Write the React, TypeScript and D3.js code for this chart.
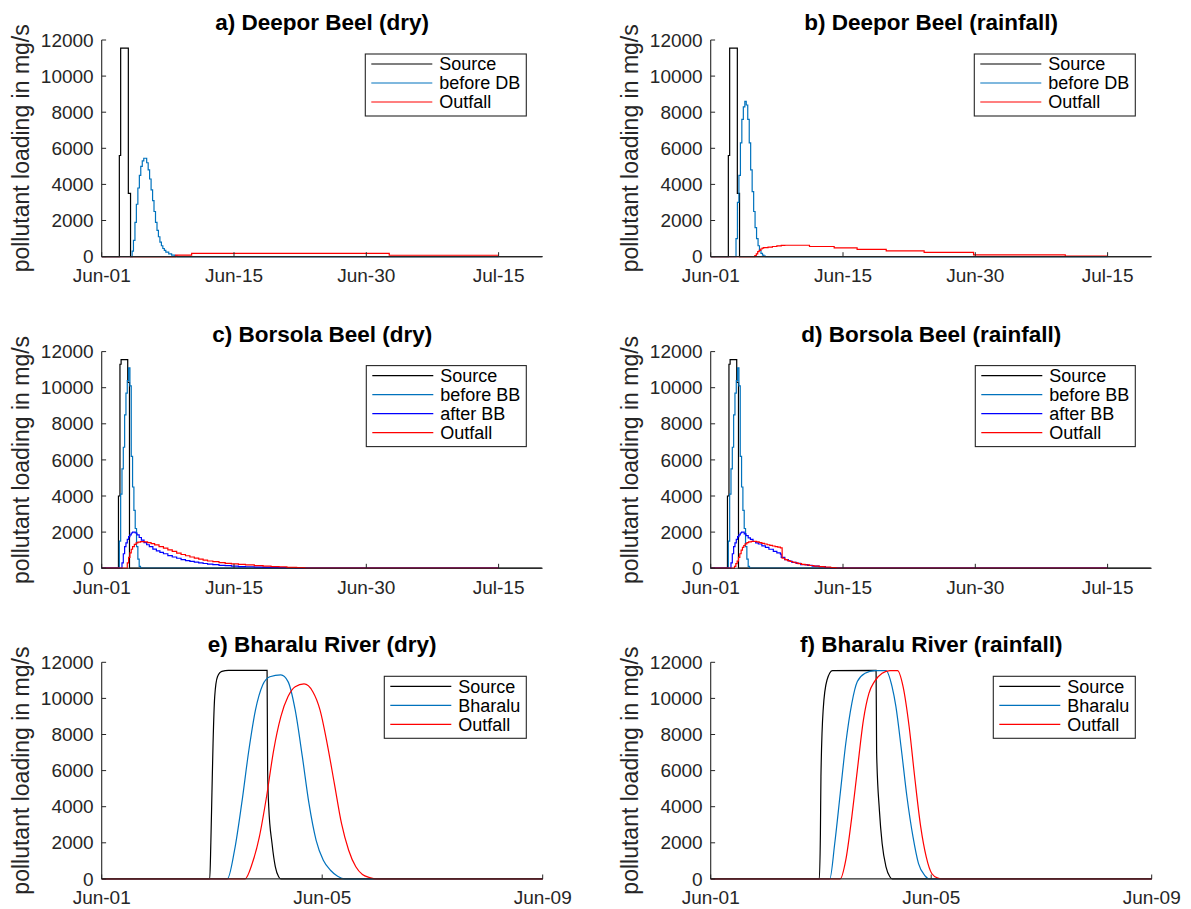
import React from 'react';
import * as d3 from 'd3';

type Pt = [number, number];

// ---------- axes / ticks ----------
const deeporSpan: [number, number] = [0, 50];
const deeporTickDays = [0, 15, 30, 45];
const deeporTickLabels = ['Jun-01', 'Jun-15', 'Jun-30', 'Jul-15'];
const bharaluSpan: [number, number] = [0, 8];
const bharaluTickDays = [0, 4, 8];
const bharaluTickLabels = ['Jun-01', 'Jun-05', 'Jun-09'];
const loadTicks = [0, 2000, 4000, 6000, 8000, 10000, 12000];

// ---------- Deepor Beel (days since Jun-01, mg/s) ----------
const deeporSource: Pt[] = [[0, 0], [2.0, 5600], [2.15, 11550], [3.02, 3500], [3.27, 0], [49.9, 0]];
const deeporDryBefore: Pt[] = [
  [0, 0], [3.28, 0], [3.45, 300], [3.6, 900], [3.77, 1900], [3.93, 2900], [4.1, 3800], [4.27, 4500],
  [4.43, 5000], [4.6, 5300], [4.77, 5450], [4.93, 5450], [5.1, 5200], [5.27, 4800], [5.43, 4300],
  [5.6, 3700], [5.77, 3100], [5.93, 2500], [6.1, 1900], [6.27, 1450], [6.43, 1100], [6.6, 800],
  [6.77, 600], [6.93, 450], [7.1, 350], [7.27, 250], [7.6, 150], [7.93, 80], [8.3, 30], [8.6, 0], [45, 0],
];
const deeporDryOutfall: Pt[] = [[0, 0], [8.4, 80], [10.2, 180], [32.6, 75], [45, 75]];
const deeporRainBefore: Pt[] = [
  [0, 0], [2.7, 0], [2.87, 1000], [3.03, 3000], [3.2, 4500], [3.37, 6300], [3.53, 7600], [3.7, 8300],
  [3.87, 8600], [4.03, 8400], [4.2, 7600], [4.37, 6300], [4.53, 4800], [4.7, 3600], [4.87, 2500],
  [5.03, 1600], [5.2, 1000], [5.37, 600], [5.53, 350], [5.7, 180], [5.87, 80], [6.03, 30], [6.2, 0], [45, 0],
];
const deeporRainOutfall: Pt[] = [
  [0, 0], [5.0, 50], [5.17, 150], [5.33, 280], [5.5, 350], [5.67, 420], [5.83, 470], [6.0, 500],
  [6.5, 530], [7.0, 560], [7.5, 590], [8.0, 620], [8.4, 630], [11.2, 560], [14.0, 480], [16.6, 400],
  [19.9, 320], [24.2, 230], [29.8, 100], [40.2, 30], [45, 30],
];

// ---------- Borsola Beel ----------
const borsolaSource: Pt[] = [[0, 0], [1.9, 4000], [2.07, 11300], [2.2, 11550], [2.95, 10300], [3.15, 0], [49.9, 0]];
const borsolaBefore: Pt[] = [
  [0, 0], [2.0, 1500], [2.15, 4100], [2.3, 5500], [2.45, 6700], [2.6, 8500], [2.75, 9700], [2.9, 10400],
  [3.05, 11100], [3.2, 10100], [3.35, 6200], [3.5, 4500], [3.65, 3200], [3.8, 2200], [3.95, 1200],
  [4.1, 500], [4.25, 100], [4.4, 0], [45, 0],
];
const borsolaDryAfter: Pt[] = [
  [0, 0], [2.3, 300], [2.45, 800], [2.6, 1200], [2.75, 1400], [2.9, 1600], [3.05, 1750], [3.2, 1850],
  [3.35, 1950], [3.5, 2000], [3.8, 1950], [4.0, 1850], [4.25, 1700], [4.5, 1550], [4.8, 1420], [5.1, 1300],
  [5.4, 1200], [5.8, 1060], [6.2, 960], [6.6, 880], [7.0, 800], [7.5, 700], [8.0, 620], [8.5, 550],
  [9.0, 480], [9.5, 420], [10.0, 380], [10.5, 340], [11.0, 300], [11.5, 260], [12.0, 230], [12.6, 200],
  [13.3, 160], [14.0, 140], [14.7, 110], [15.5, 90], [16.3, 80], [17.3, 60], [18.3, 50], [20.1, 30],
  [22.0, 0], [45, 0],
];
const borsolaDryOutfall: Pt[] = [
  [0, 0], [2.75, 0], [2.9, 300], [3.05, 600], [3.2, 850], [3.35, 1050], [3.5, 1200], [3.7, 1320],
  [3.9, 1400], [4.1, 1440], [4.4, 1470], [4.8, 1460], [5.2, 1420], [5.6, 1360], [6.0, 1290], [6.5, 1200],
  [7.0, 1110], [7.5, 1020], [8.0, 930], [8.5, 840], [9.0, 760], [9.5, 690], [10.0, 620], [10.5, 560],
  [11.0, 500], [11.5, 450], [12.0, 400], [12.6, 360], [13.3, 310], [14.0, 270], [14.7, 240], [15.5, 210],
  [16.3, 180], [17.3, 140], [18.3, 110], [19.2, 90], [20.1, 70], [21.0, 50], [22.1, 30], [23.0, 0], [45, 0],
];
const borsolaRainAfter: Pt[] = [
  [0, 0], [2.3, 300], [2.45, 800], [2.6, 1200], [2.75, 1400], [2.9, 1600], [3.05, 1750], [3.2, 1850],
  [3.35, 1950], [3.5, 2000], [3.8, 1900], [4.0, 1800], [4.25, 1680], [4.5, 1600], [4.8, 1480], [5.1, 1400],
  [5.4, 1340], [5.8, 1240], [6.2, 1150], [6.6, 1050], [7.1, 930], [7.5, 850], [7.9, 780], [8.0, 600],
  [8.4, 480], [8.8, 400], [9.2, 320], [9.7, 270], [10.2, 200], [11.0, 160], [11.5, 120], [12.3, 90],
  [13.0, 40], [13.6, 0], [45, 0],
];
const borsolaRainOutfall: Pt[] = [
  [0, 0], [2.55, 0], [2.7, 100], [2.85, 250], [3.0, 400], [3.15, 600], [3.3, 800], [3.45, 1000],
  [3.6, 1150], [3.75, 1250], [3.9, 1350], [4.1, 1420], [4.3, 1460], [4.6, 1490], [4.9, 1490], [5.2, 1460],
  [5.5, 1420], [5.8, 1380], [6.1, 1340], [6.4, 1300], [6.7, 1260], [7.0, 1230], [7.3, 1200], [7.6, 1170],
  [7.9, 1130], [8.1, 550], [8.4, 480], [8.7, 420], [9.0, 370], [9.3, 330], [9.6, 290], [9.9, 250],
  [10.3, 210], [10.7, 180], [11.2, 150], [11.7, 120], [12.3, 90], [12.9, 60], [13.6, 30], [14.2, 0], [45, 0],
];

// ---------- Bharalu River ----------
const bharaluDrySource: Pt[] = [
  [0, 0], [1.96, 0], [1.98, 2000], [2.0, 4800], [2.02, 7500], [2.05, 10100], [2.1, 11200], [2.18, 11500],
  [2.3, 11550], [3.0, 11550], [3.01, 6000], [3.03, 4000], [3.09, 1960], [3.15, 670], [3.21, 120], [3.25, 0], [8, 0],
];
const bharaluDryRiver: Pt[] = [
  [0, 0], [2.28, 0], [2.41, 1590], [2.54, 4180], [2.67, 7140], [2.79, 9360], [2.92, 10740], [3.05, 11200],
  [3.25, 11300], [3.38, 10930], [3.51, 9360], [3.64, 6770], [3.76, 4180], [3.89, 2140], [4.02, 1035],
  [4.15, 480], [4.28, 150], [4.41, 0], [8, 0],
];
const bharaluDryOutfall: Pt[] = [
  [0, 0], [2.6, 0], [2.73, 850], [2.86, 2330], [2.99, 4550], [3.12, 7140], [3.25, 8990], [3.38, 10100],
  [3.51, 10650], [3.67, 10800], [3.83, 10370], [3.96, 9360], [4.09, 7500], [4.22, 5290], [4.35, 3070],
  [4.48, 1590], [4.61, 670], [4.73, 240], [4.86, 74], [4.99, 0], [8, 0],
];
const bharaluRainSource: Pt[] = [
  [0, 0], [1.97, 0], [1.99, 2500], [2.0, 5660], [2.04, 9360], [2.11, 11020], [2.21, 11540], [3.0, 11550],
  [3.01, 7000], [3.06, 3810], [3.11, 1960], [3.18, 670], [3.25, 120], [3.29, 0], [8, 0],
];
const bharaluRainRiver: Pt[] = [
  [0, 0], [2.16, 0], [2.25, 1960], [2.35, 4730], [2.45, 7500], [2.56, 9730], [2.66, 10930], [2.8, 11390],
  [2.97, 11540], [3.18, 11540], [3.29, 10650], [3.36, 9540], [3.46, 7140], [3.56, 4550], [3.67, 2330],
  [3.77, 850], [3.88, 200], [3.98, 0], [8, 0],
];
const bharaluRainOutfall: Pt[] = [
  [0, 0], [2.35, 0], [2.45, 1035], [2.56, 3440], [2.66, 6030], [2.77, 8800], [2.87, 10280], [2.97, 10930],
  [3.11, 11390], [3.25, 11540], [3.39, 11540], [3.49, 10650], [3.6, 8430], [3.7, 5660], [3.81, 2880],
  [3.91, 1220], [4.01, 300], [4.12, 40], [4.19, 0], [8, 0],
];

// ---------- styling / layout ----------
const BLACK = '#000000';
const MBLUE = '#0072BD';
const BLUE = '#0000FF';
const RED = '#FF0000';
const AXIS = '#262626';
const FONT = '"Liberation Sans", Arial, Helvetica, sans-serif';
const COL_X = [101.7, 710.7];
const ROW_Y = [40, 351.6, 662.3];
const AX_W = 441;
const AX_H = 216.6;

type Series = { name: string; color: string; data: Pt[] };
type PanelDef = {
  title: string; col: number; row: number; span: [number, number]; tickDays: number[]; tickLabels: string[];
  smooth: boolean; legendW: number; series: Series[];
};

const panels: PanelDef[] = [
  {
    title: 'a) Deepor Beel (dry)', col: 0, row: 0, span: deeporSpan, tickDays: deeporTickDays, tickLabels: deeporTickLabels,
    smooth: false, legendW: 161,
    series: [
      { name: 'Source', color: BLACK, data: deeporSource },
      { name: 'before DB', color: MBLUE, data: deeporDryBefore },
      { name: 'Outfall', color: RED, data: deeporDryOutfall },
    ],
  },
  {
    title: 'b) Deepor Beel (rainfall)', col: 1, row: 0, span: deeporSpan, tickDays: deeporTickDays, tickLabels: deeporTickLabels,
    smooth: false, legendW: 161,
    series: [
      { name: 'Source', color: BLACK, data: deeporSource },
      { name: 'before DB', color: MBLUE, data: deeporRainBefore },
      { name: 'Outfall', color: RED, data: deeporRainOutfall },
    ],
  },
  {
    title: 'c) Borsola Beel (dry)', col: 0, row: 1, span: deeporSpan, tickDays: deeporTickDays, tickLabels: deeporTickLabels,
    smooth: false, legendW: 160,
    series: [
      { name: 'Source', color: BLACK, data: borsolaSource },
      { name: 'before BB', color: MBLUE, data: borsolaBefore },
      { name: 'after BB', color: BLUE, data: borsolaDryAfter },
      { name: 'Outfall', color: RED, data: borsolaDryOutfall },
    ],
  },
  {
    title: 'd) Borsola Beel (rainfall)', col: 1, row: 1, span: deeporSpan, tickDays: deeporTickDays, tickLabels: deeporTickLabels,
    smooth: false, legendW: 160,
    series: [
      { name: 'Source', color: BLACK, data: borsolaSource },
      { name: 'before BB', color: MBLUE, data: borsolaBefore },
      { name: 'after BB', color: BLUE, data: borsolaRainAfter },
      { name: 'Outfall', color: RED, data: borsolaRainOutfall },
    ],
  },
  {
    title: 'e) Bharalu River (dry)', col: 0, row: 2, span: bharaluSpan, tickDays: bharaluTickDays, tickLabels: bharaluTickLabels,
    smooth: true, legendW: 142,
    series: [
      { name: 'Source', color: BLACK, data: bharaluDrySource },
      { name: 'Bharalu', color: MBLUE, data: bharaluDryRiver },
      { name: 'Outfall', color: RED, data: bharaluDryOutfall },
    ],
  },
  {
    title: 'f) Bharalu River (rainfall)', col: 1, row: 2, span: bharaluSpan, tickDays: bharaluTickDays, tickLabels: bharaluTickLabels,
    smooth: true, legendW: 142,
    series: [
      { name: 'Source', color: BLACK, data: bharaluRainSource },
      { name: 'Bharalu', color: MBLUE, data: bharaluRainRiver },
      { name: 'Outfall', color: RED, data: bharaluRainOutfall },
    ],
  },
];

function Panel({ p }: { p: PanelDef }) {
  const x0 = COL_X[p.col];
  const y0 = ROW_Y[p.row];
  const x = d3.scaleLinear().domain(p.span).range([x0, x0 + AX_W]);
  const y = d3.scaleLinear().domain([0, 12000]).range([y0 + AX_H, y0]);
  const line = d3
    .line<Pt>()
    .x((d) => x(d[0]))
    .y((d) => y(d[1]))
    .curve(p.smooth ? d3.curveMonotoneX : d3.curveStepAfter);
  const yb = y(0);
  const tl = 4.4;
  const lgRight = x0 + 424.6;
  const lgLeft = lgRight - p.legendW;
  const lgTop = y0 + 14;
  const lgH = 5 + p.series.length * 19;
  return (
    <g>
      {p.series.map((s) => (
        <path key={s.name} d={line(s.data) || ''} fill="none" stroke={s.color} strokeWidth={1.2} strokeLinejoin="miter" />
      ))}
      {/* axes */}
      <line x1={x0} x2={x0 + AX_W} y1={yb} y2={yb} stroke={AXIS} strokeWidth={1.1} />
      <line x1={x0} x2={x0} y1={yb} y2={y(12000)} stroke={AXIS} strokeWidth={1.1} />
      {loadTicks.map((t) => (
        <g key={'y' + t}>
          <line x1={x0} x2={x0 + tl} y1={y(t)} y2={y(t)} stroke={AXIS} strokeWidth={1} />
          <text x={x0 - 8} y={y(t)} dy="0.35em" textAnchor="end" fontSize={19} fill={AXIS} fontFamily={FONT}>
            {t}
          </text>
        </g>
      ))}
      {p.tickDays.map((t, i) => (
        <g key={'x' + t}>
          <line x1={x(t)} x2={x(t)} y1={yb} y2={yb - tl} stroke={AXIS} strokeWidth={1} />
          <text x={x(t)} y={yb + 25.5} textAnchor="middle" fontSize={19} fill={AXIS} fontFamily={FONT}>
            {p.tickLabels[i]}
          </text>
        </g>
      ))}
      <text x={x0 + AX_W / 2} y={y0 - 10} textAnchor="middle" fontSize={22.5} fontWeight="bold" fill="#000" fontFamily={FONT}>
        {p.title}
      </text>
      <text
        transform={`translate(${x0 - 73},${y0 + AX_H / 2}) rotate(-90)`}
        textAnchor="middle"
        fontSize={23}
        fill={AXIS}
        fontFamily={FONT}
      >
        pollutant loading in mg/s
      </text>
      {/* legend */}
      <rect x={lgLeft} y={lgTop} width={p.legendW} height={lgH} fill="#fff" stroke={AXIS} strokeWidth={1.1} />
      {p.series.map((s, i) => {
        const cy = lgTop + 10 + i * 19;
        return (
          <g key={'lg' + s.name}>
            <line x1={lgLeft + 6} x2={lgLeft + 67} y1={cy} y2={cy} stroke={s.color} strokeWidth={1.2} />
            <text x={lgLeft + 74} y={cy} dy="0.35em" fontSize={18} fill="#000" fontFamily={FONT}>
              {s.name}
            </text>
          </g>
        );
      })}
    </g>
  );
}

export default function App() {
  return (
    <svg
      width={1191}
      height={909}
      viewBox="0 0 1191 909"
      style={{ position: 'absolute', left: 0, top: 0, background: '#fff' }}
    >
      <rect x={0} y={0} width={1191} height={909} fill="#fff" />
      {panels.map((p) => (
        <Panel key={p.title} p={p} />
      ))}
    </svg>
  );
}
